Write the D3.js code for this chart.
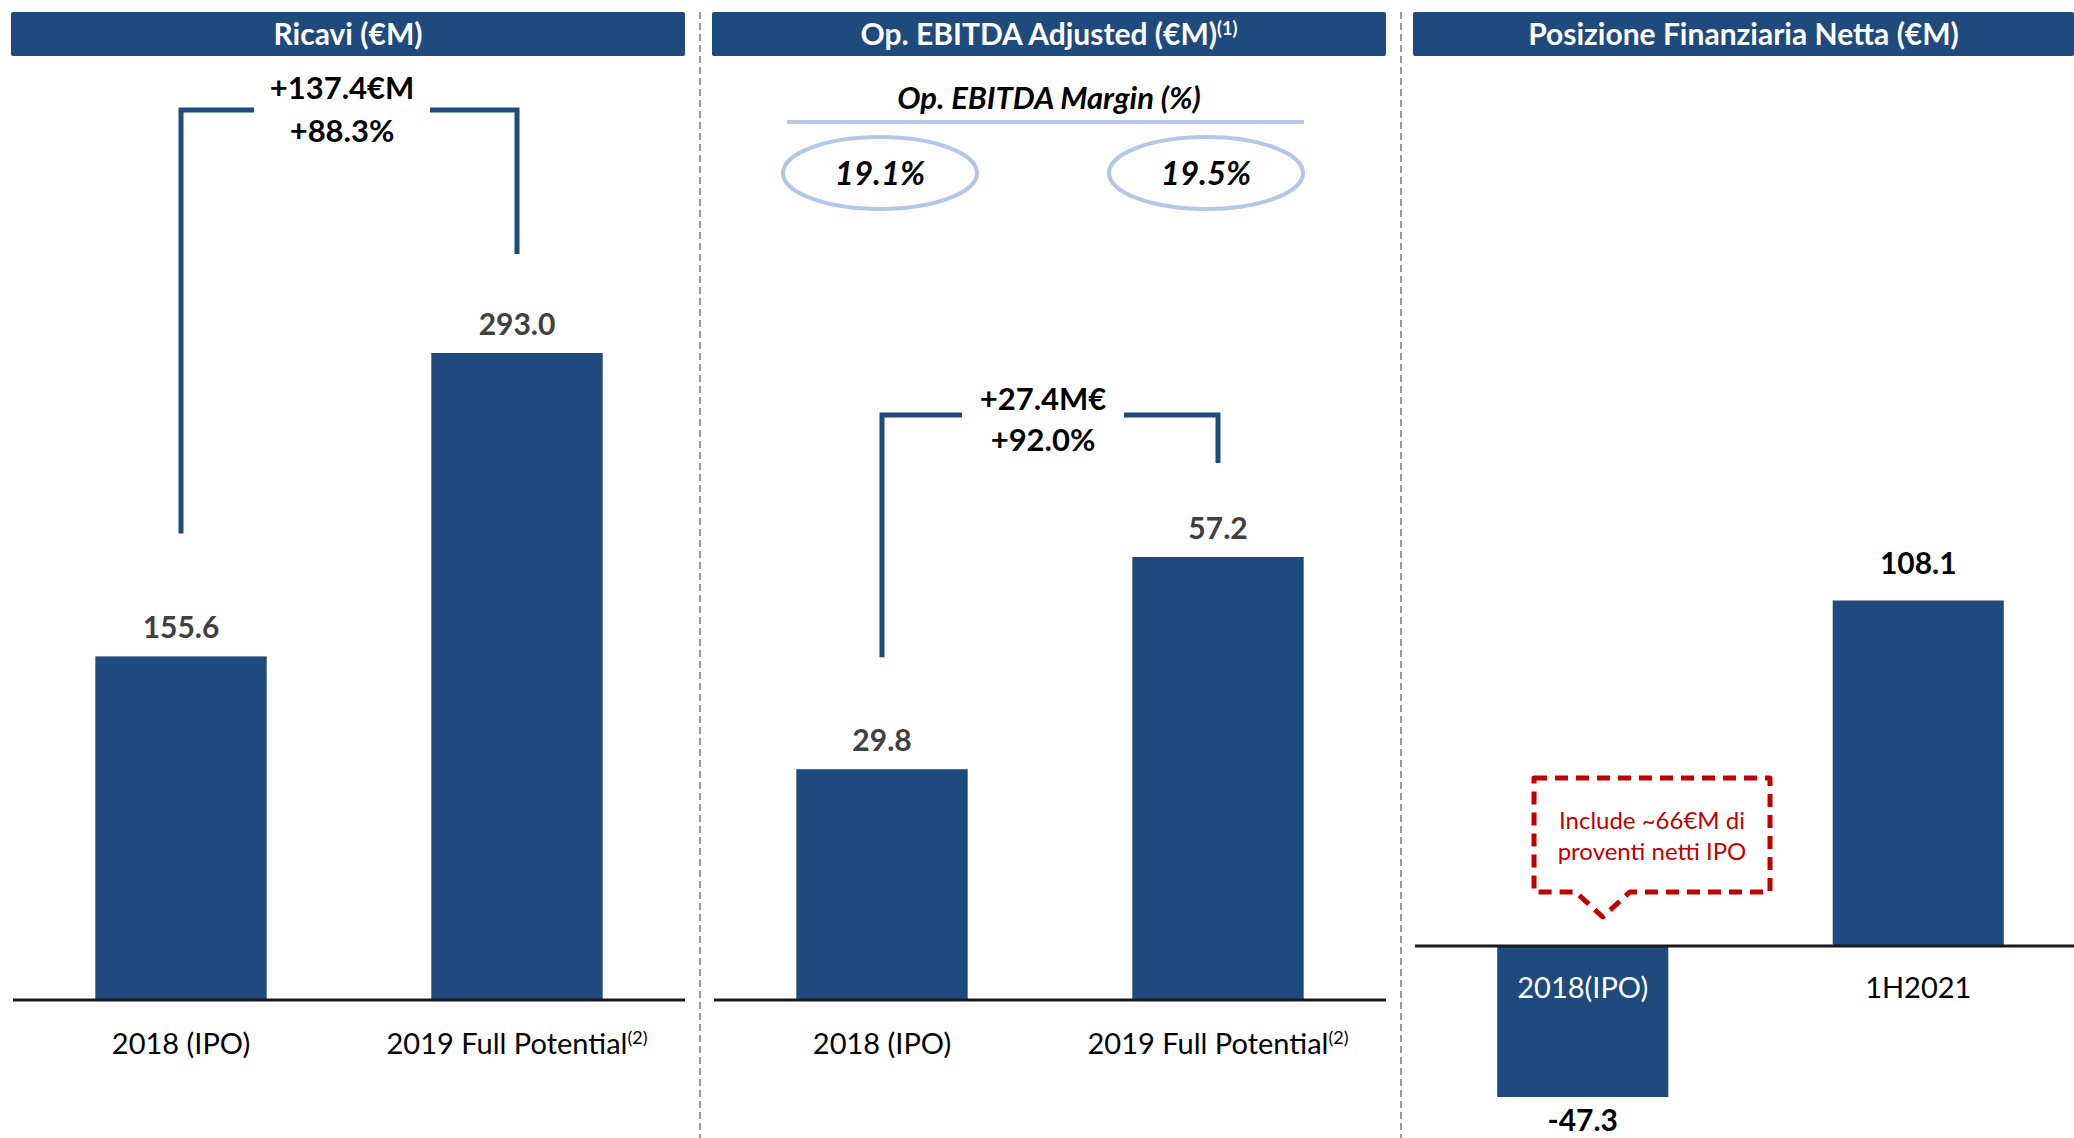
<!DOCTYPE html>
<html>
<head>
<meta charset="utf-8">
<script src="https://cdn.jsdelivr.net/npm/d3@7"></script>
<style>
  body { margin: 0; background: #fff; }
  svg { display: block; font-family: Lato, "Open Sans", sans-serif; }
</style>
</head>
<body>
<svg id="chart" width="2074" height="1138"></svg>
<script>
"use strict";

// Dati
const titles = ["Ricavi (€M)", "Op. EBITDA Adjusted (€M)", "Posizione Finanziaria Netta (€M)"];
const catsRicavi = ["2018 (IPO)", "2019 Full Potential"];
const ricavi = [155.6, 293.0];
const catsEbitda = ["2018 (IPO)", "2019 Full Potential"];
const ebitda = [29.8, 57.2];
const marginLabel = "Op. EBITDA Margin (%)";
const margins = ["19.1%", "19.5%"];
const catsPfn = ["2018(IPO)", "1H2021"];
const pfn = [-47.3, 108.1];
const deltaRicavi = ["+137.4€M", "+88.3%"];
const deltaEbitda = ["+27.4M€", "+92.0%"];
const calloutText = ["Include ~66€M di", "proventi netti IPO"];

const blue = "#1F4A7D";
const lightBlue = "#B4C7E7";
const red = "#C00000";
const fmt = v => d3.format(".1f")(v).replace("−", "-");

const svg = d3.select("#chart");

// Pannelli: [x0, x1] della testata
const panels = [
  { x0: 11, x1: 685 },
  { x0: 712, x1: 1386 },
  { x0: 1413, x1: 2086 }
];

// Testate
panels.forEach((p, i) => {
  svg.append("rect")
    .attr("x", p.x0).attr("y", 12)
    .attr("width", Math.min(p.x1, 2074) - p.x0).attr("height", 44)
    .attr("rx", 2)
    .attr("fill", blue);
  const t = svg.append("text")
    .attr("x", (p.x0 + Math.min(p.x1, 2074)) / 2)
    .attr("y", 45)
    .attr("text-anchor", "middle")
    .attr("fill", "#fff")
    .attr("font-size", 30)
    .attr("font-weight", "bold")
    .text(titles[i]);
  if (i === 1) {
    t.append("tspan").attr("dy", -10).attr("font-size", 18).text("(1)");
  }
});

// Separatori tratteggiati
[700, 1401].forEach(x => {
  svg.append("line")
    .attr("x1", x).attr("x2", x).attr("y1", 12).attr("y2", 1138)
    .attr("stroke", "#9a9a9a").attr("stroke-width", 2)
    .attr("stroke-dasharray", "7,4");
});

// Funzione per un pannello a barre
function drawPanel(p, cats, values, y, axisY, opts) {
  const x = d3.scaleBand()
    .domain(cats)
    .range([p.x0 + 2, p.x1])
    .paddingInner(0.49)
    .paddingOuter(0.245);

  const g = svg.append("g");

  // Barre
  g.selectAll("rect.bar")
    .data(values)
    .join("rect")
    .attr("class", "bar")
    .attr("x", (d, i) => x(cats[i]))
    .attr("y", d => y(Math.max(0, d)))
    .attr("width", x.bandwidth())
    .attr("height", d => Math.abs(y(d) - y(0)))
    .attr("fill", blue);

  // Asse
  const axis = g.append("g")
    .attr("transform", `translate(0,${axisY})`)
    .call(d3.axisBottom(x).tickSize(0).tickPadding(opts.pad).tickSizeOuter(0));
  axis.select(".domain")
    .attr("stroke", "#1a1a1a").attr("stroke-width", 3)
    .attr("d", `M${p.x0 + 2},0H${Math.min(p.x1, 2074)}`);
  axis.selectAll(".tick text")
    .attr("font-size", 29)
    .attr("font-family", "Lato, sans-serif")
    .attr("fill", (d, i) => (values[i] < 0 ? "#fff" : "#000"));
  if (opts.sup) {
    axis.selectAll(".tick text")
      .filter(d => d === cats[1])
      .append("tspan").attr("dy", "-0.55em").attr("font-size", 18).text("(2)");
  }

  // Etichette valori
  g.selectAll("text.val")
    .data(values)
    .join("text")
    .attr("class", "val")
    .attr("x", (d, i) => x(cats[i]) + x.bandwidth() / 2)
    .attr("y", d => (d < 0 ? y(d) + 34 : y(d) - opts.valOff))
    .attr("text-anchor", "middle")
    .attr("font-size", 30)
    .attr("font-weight", "bold")
    .attr("fill", opts.valColor)
    .text(d => fmt(d));

  return x;
}

// Staffa con delta
function drawBracket(x, cats, values, y, topY, offs, gap, lines, textOffs) {
  const xl = x(cats[0]) + x.bandwidth() / 2;
  const xr = x(cats[1]) + x.bandwidth() / 2;
  const cx = (xl + xr) / 2 - 7;
  svg.append("path")
    .attr("d", `M${xl},${y(values[0]) - offs[0]}V${topY}H${cx - gap}M${cx + gap},${topY}H${xr}V${y(values[1]) - offs[1]}`)
    .attr("fill", "none")
    .attr("stroke", blue)
    .attr("stroke-width", 5);
  lines.forEach((l, i) => {
    svg.append("text")
      .attr("x", cx)
      .attr("y", topY + textOffs[i])
      .attr("text-anchor", "middle")
      .attr("font-size", 31)
      .attr("font-weight", "bold")
      .attr("fill", "#000")
      .text(l);
  });
}

// Pannello 1: Ricavi
const y1 = d3.scaleLinear().domain([0, 293]).range([1000, 353]);
const x1 = drawPanel(panels[0], catsRicavi, ricavi, y1, 1000, { pad: 33, sup: true, valColor: "#404040", valOff: 18 });
drawBracket(x1, catsRicavi, ricavi, y1, 110, [123, 99], 88, deltaRicavi, [-11, 32]);

// Pannello 2: EBITDA
const y2 = d3.scaleLinear().domain([0, 57.2]).range([1000, 557]);
const x2 = drawPanel(panels[1], catsEbitda, ebitda, y2, 1000, { pad: 33, sup: true, valColor: "#404040", valOff: 18 });
drawBracket(x2, catsEbitda, ebitda, y2, 415, [112, 94], 81, deltaEbitda, [-5, 36]);

// Margine EBITDA
svg.append("text")
  .attr("x", 1049).attr("y", 109)
  .attr("text-anchor", "middle")
  .attr("font-size", 31)
  .attr("font-weight", "bold")
  .attr("font-style", "italic")
  .text(marginLabel);
svg.append("line")
  .attr("x1", 787).attr("x2", 1304).attr("y1", 122).attr("y2", 122)
  .attr("stroke", lightBlue).attr("stroke-width", 4);
const mx = d3.scalePoint().domain(margins).range([880, 1206]);
margins.forEach(m => {
  svg.append("ellipse")
    .attr("cx", mx(m)).attr("cy", 173)
    .attr("rx", 97).attr("ry", 36)
    .attr("fill", "none").attr("stroke", lightBlue).attr("stroke-width", 4);
  svg.append("text")
    .attr("x", mx(m)).attr("y", 185)
    .attr("text-anchor", "middle")
    .attr("font-size", 33)
    .attr("font-weight", "bold")
    .attr("font-style", "italic")
    .text(m);
});

// Pannello 3: PFN
const y3 = d3.scaleLinear().domain([-47.3, 108.1]).range([1097, 600.5]);
const x3 = drawPanel(panels[2], catsPfn, pfn, y3, y3(0), { pad: 32, sup: false, valColor: "#000", valOff: 27 });

// Callout tratteggiato
const bx0 = 1534, bx1 = 1770, by0 = 778, by1 = 892;
const tipX = x3(catsPfn[0]) + x3.bandwidth() / 2 + 20;
svg.append("path")
  .attr("d", `M${bx0},${by0}H${bx1}V${by1}H${tipX + 27}L${tipX},${917}L${tipX - 27},${by1}H${bx0}Z`)
  .attr("fill", "#fff")
  .attr("stroke", red)
  .attr("stroke-width", 5)
  .attr("stroke-dasharray", "13,8")
  .attr("stroke-linejoin", "round");
calloutText.forEach((t, i) => {
  svg.append("text")
    .attr("x", (bx0 + bx1) / 2).attr("y", 829 + i * 31)
    .attr("text-anchor", "middle")
    .attr("font-size", 24)
    .attr("fill", red)
    .text(t);
});
</script>
</body>
</html>
